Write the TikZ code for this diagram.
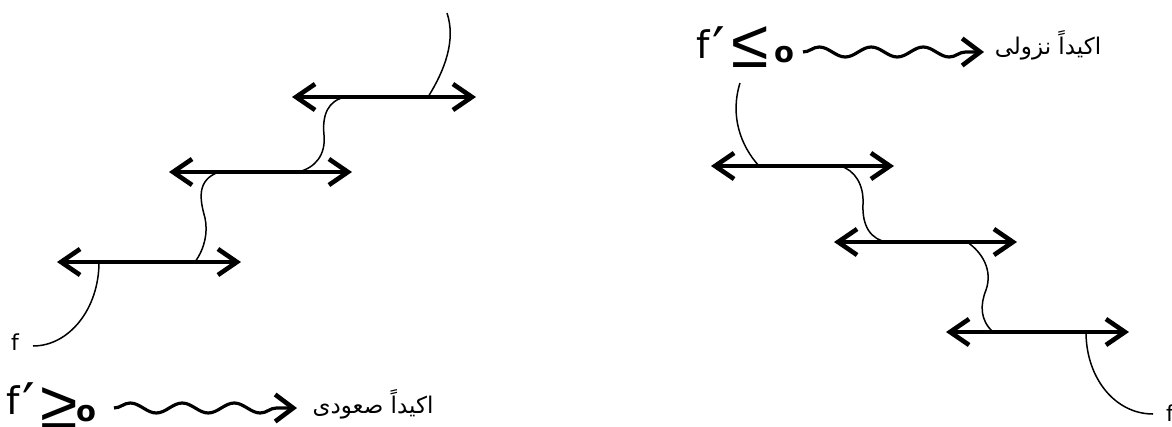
\documentclass[tikz,border=0pt]{standalone}
\usepackage{fontspec}
\setmainfont{DejaVu Sans}
\newfontfamily\arabicfont[Script=Arabic]{DejaVu Sans}
\newfontfamily\relfont{Liberation Sans}
\TeXXeTstate=1
\usetikzlibrary{arrows.meta,decorations.pathmorphing}
\begin{document}
\begin{tikzpicture}[x=1pt,y=-1pt,
  barb/.tip={Straight Barb[length=19pt,width=26pt,line width=4.6pt]},
  wbarb/.tip={Straight Barb[length=18pt,width=27pt,line width=4.6pt]},
  bar/.style={line width=3.4pt,barb-barb},
  link/.style={line width=1.5pt},
  wave/.style={line width=3.2pt,decorate,decoration={snake,segment length=52pt,amplitude=5pt,post length=14pt},-wbarb},
  lbl/.style={inner sep=0pt,font=\fontsize{22}{26}\selectfont},
  big/.style={inner sep=0pt,font=\fontsize{38}{44}\selectfont},
  rel/.style={inner sep=0pt,font=\fontsize{68}{72}\relfont},
  zero/.style={inner sep=0pt,font=\fontsize{29}{34}\selectfont\bfseries},
  ar/.style={inner sep=0pt,font=\fontsize{23}{28}\arabicfont}]
\newcommand{\fprime}{f\kern2.5pt\raisebox{-9pt}{\fontsize{56}{56}\selectfont′}}
\useasboundingbox (0,0) rectangle (1172,426);
% ---------- left: increasing ----------
\coordinate (L1a) at (57,262);  \coordinate (L1b) at (241,262);
\coordinate (L2a) at (169,172); \coordinate (L2b) at (352,172);
\coordinate (L3a) at (292,97);  \coordinate (L3b) at (476,97);
\draw[bar] (L1a) -- (L1b);
\draw[bar] (L2a) -- (L2b);
\draw[bar] (L3a) -- (L3b);
\node[lbl,anchor=base] (fL) at (15,350) {f};
\coordinate (fLs) at (33,346);
\coordinate (L1c) at (99,262);
\draw[link] (fLs) .. controls (69,346) and (99,309) .. (L1c);
\coordinate (L1w) at (195,262); \coordinate (L2w) at (219,172);
\draw[link] (L1w) .. controls (205,248) and (208,232) .. (205,218)
  .. controls (200,200) and (196,180) .. (L2w);
\coordinate (L2v) at (298,172); \coordinate (L3w) at (346,97);
\draw[link] (L2v) .. controls (315,168) and (326,155) .. (324,135)
  .. controls (322,115) and (328,100) .. (L3w);
\coordinate (L3c) at (428,97); \coordinate (Ltop) at (447,13);
\draw[link] (L3c) .. controls (445,70) and (456,40) .. (Ltop);
% legend bottom
\node[big,anchor=base west] (fp1) at (6,414) {\fprime};
\node[rel] (ge) at (59,408) {≥};
\node[zero,anchor=base] (z1) at (86,421) {o};
\node[ar] (t1) at (373,404) {\beginR اکیداً صعودی\endR};
\coordinate (w1s) at (114,408); \coordinate (w1e) at (297,408);
\draw[wave] (w1s) -- (w1e);
% ---------- right: decreasing ----------
\coordinate (R1a) at (711,166);  \coordinate (R1b) at (894,166);
\coordinate (R2a) at (834,242);  \coordinate (R2b) at (1017,242);
\coordinate (R3a) at (946,332);  \coordinate (R3b) at (1129,332);
\draw[bar] (R1a) -- (R1b);
\draw[bar] (R2a) -- (R2b);
\draw[bar] (R3a) -- (R3b);
\coordinate (Rtop) at (740,83); \coordinate (R1c) at (759,166);
\draw[link] (Rtop) .. controls (730,115) and (740,145) .. (R1c);
\coordinate (R1w) at (840,166); \coordinate (R2w) at (888,242);
\draw[link] (R1w) .. controls (855,170) and (864,185) .. (863,204)
  .. controls (862,225) and (870,240) .. (R2w);
\coordinate (R2v) at (967,242); \coordinate (R3w) at (993,332);
\draw[link] (R2v) .. controls (982,252) and (993,270) .. (986,290)
  .. controls (980,305) and (980,320) .. (R3w);
\coordinate (R3c) at (1086,332); \coordinate (fRe) at (1153,414);
\draw[link] (R3c) .. controls (1086,378) and (1115,414) .. (fRe);
\node[lbl,anchor=base west] (fR) at (1166,421) {f};
% legend top
\node[big,anchor=base west] (fp2) at (696,58) {\fprime};
\node[rel] (le) at (750,47) {≤};
\node[zero,anchor=base] (z2) at (784,62) {o};
\node[ar] (t2) at (1048,45) {\beginR اکیداً نزولی\endR};
\coordinate (w2s) at (803,52); \coordinate (w2e) at (984,52);
\draw[wave] (w2s) -- (w2e);
\end{tikzpicture}
\end{document}
